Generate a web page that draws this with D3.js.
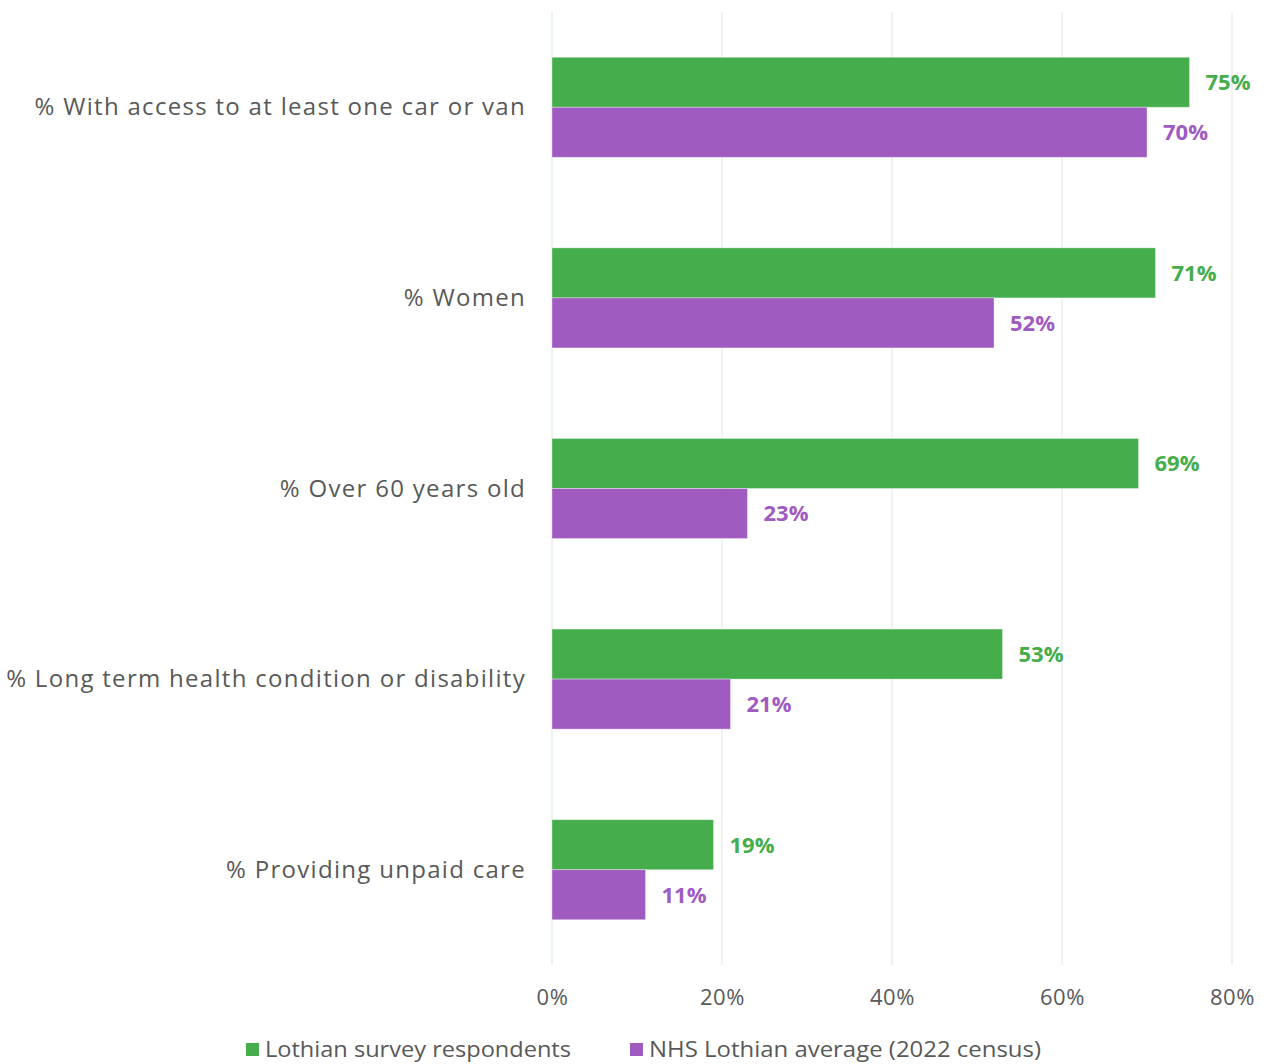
<!DOCTYPE html>
<html>
<head>
<meta charset="utf-8">
<script src="https://cdn.jsdelivr.net/npm/d3@7"></script>
<style>
  html, body { margin: 0; padding: 0; background: #fff; }
  svg { display: block; }
</style>
</head>
<body>
<svg id="chart" width="1266" height="1064"></svg>
<script>
// Profile of survey respondents compared with the census average
const categories = [
  "% With access to at least one car or van",
  "% Women",
  "% Over 60 years old",
  "% Long term health condition or disability",
  "% Providing unpaid care"
];
const surveyValues = [75, 71, 69, 53, 19];
const censusValues = [70, 52, 23, 21, 11];
const seriesNames = ["Lothian survey respondents", "NHS Lothian average (2022 census)"];
const tickValues = [0, 20, 40, 60, 80];

const colors = ["#45ad4b", "#9f5bbf"];
const svg = d3.select("#chart");
const font = "'Open Sans', Lato, sans-serif";

const x = d3.scaleLinear().domain([0, 80]).range([552, 1232]);
const y = d3.scaleBand().domain(categories).range([12, 965])
  .paddingInner(0.475).paddingOuter(0.2375);
const ySub = d3.scaleBand().domain([0, 1]).range([0, y.bandwidth()]);

// vertical gridlines
svg.append("g").selectAll("line").data(tickValues).join("line")
  .attr("x1", d => x(d)).attr("x2", d => x(d))
  .attr("y1", 12).attr("y2", 965)
  .attr("stroke", d => d === 0 ? "#e3f2e3" : "#eeeeee")
  .attr("stroke-width", 1.5);

// x axis tick labels
const xAxis = d3.axisBottom(x).tickValues(tickValues).tickFormat(d => d + "%").tickSize(0);
const gx = svg.append("g").attr("transform", "translate(0,997)").call(xAxis);
gx.select(".domain").remove();
gx.selectAll("text")
  .attr("y", 0).attr("dy", "0.36em")
  .style("font-family", font).style("font-size", "22px").style("letter-spacing", "0.6px")
  .attr("fill", "#595959");

// category labels
const yAxis = d3.axisLeft(y).tickSize(0).tickPadding(0);
const gy = svg.append("g").attr("transform", "translate(526,0)").call(yAxis);
gy.select(".domain").remove();
gy.selectAll("text")
  .style("font-family", font).style("font-size", "24px").style("letter-spacing", "1.3px")
  .attr("fill", "#595959")
  .attr("dy", "0.34em");

const series = [surveyValues, censusValues];
series.forEach((vals, si) => {
  const g = svg.append("g");
  g.selectAll("rect").data(categories).join("rect")
    .attr("x", x(0))
    .attr("y", c => y(c) + ySub(si))
    .attr("width", (c, i) => x(vals[i]) - x(0))
    .attr("height", ySub.bandwidth())
    .attr("fill", colors[si])
    .attr("stroke", "#ffffff").attr("stroke-opacity", 0.35).attr("stroke-width", 1);
  g.selectAll("text").data(categories).join("text")
    .attr("x", (c, i) => x(vals[i]) + 16)
    .attr("y", c => y(c) + ySub(si) + ySub.bandwidth() / 2)
    .attr("dy", "0.36em")
    .style("font-family", font).style("font-size", "22px").style("font-weight", "bold")
    .attr("fill", colors[si])
    .text((c, i) => vals[i] + "%");
});

// legend
const legendX = [246, 630];
const lg = svg.append("g").attr("transform", "translate(0,1049)");
seriesNames.forEach((name, i) => {
  lg.append("rect").attr("x", legendX[i]).attr("y", -6).attr("width", 13).attr("height", 13)
    .attr("fill", colors[i]);
  lg.append("text").attr("x", legendX[i] + 19).attr("y", 0).attr("dy", "0.35em")
    .style("font-family", font).style("font-size", "22px").attr("fill", "#595959")
    .attr("textLength", i === 0 ? 306 : 392).attr("lengthAdjust", "spacingAndGlyphs")
    .text(name);
});
</script>
</body>
</html>
